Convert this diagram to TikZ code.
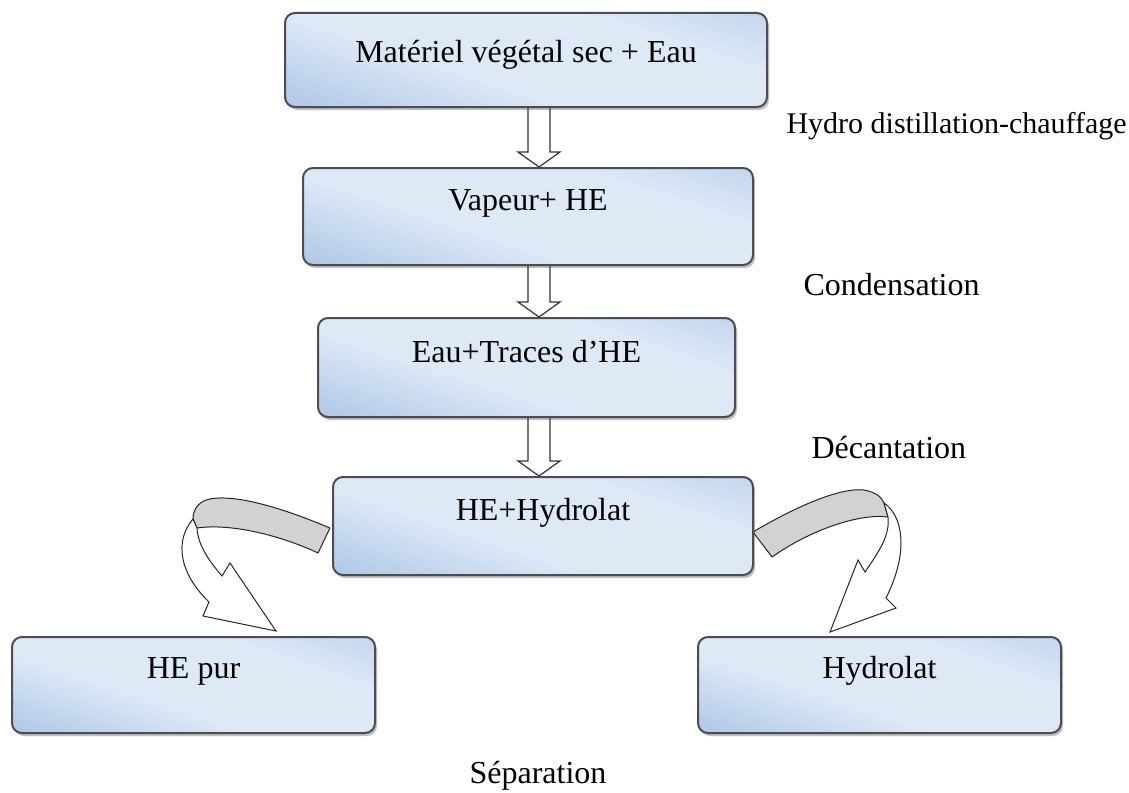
\documentclass[tikz,border=0pt]{standalone}
\usepackage{fontspec}
\setmainfont{Liberation Serif}
\usetikzlibrary{calc,shadows}
\definecolor{bdark}{HTML}{8FAFDC}
\definecolor{blight}{HTML}{DEE9F6}
\definecolor{bmid}{HTML}{A3BFE7}
\definecolor{boxline}{HTML}{4A4E54}
\definecolor{bandgray}{HTML}{D2D2D2}
\pgfdeclareverticalshading{boxshade}{100bp}{color(0bp)=(bdark); color(22bp)=(bdark!50!blight); color(42bp)=(blight); color(66bp)=(blight); color(100bp)=(bmid)}
\pgfdeclarelayer{bottom}
\pgfdeclarelayer{background}
\pgfsetlayers{bottom,background,main}
\newcommand{\hollowdown}[2]{%
  \draw[hollow] ($(ax|-#1.south)+(-11,0)$) -- ($(ax|-#2.north)+(-11,-15)$)
    -- ($(ax|-#2.north)+(-21,-15)$) -- (ax|-#2.north)
    -- ($(ax|-#2.north)+(21,-15)$) -- ($(ax|-#2.north)+(11,-15)$)
    -- ($(ax|-#1.south)+(11,0)$);}
\begin{document}
\begin{tikzpicture}[x=1pt,y=-1pt,
  procbox/.style={draw=boxline, line width=2pt, rounded corners=10pt,
    shade, shading=boxshade, shading angle=-18, inner xsep=0pt, inner ysep=0pt,
    font=\fontsize{32}{38}\selectfont,
    drop shadow={shadow xshift=2pt,shadow yshift=-3pt,opacity=0.35,fill=black!70}},
  hollow/.style={draw=black!80, fill=white, line width=1.2pt, line join=miter},
  band/.style={draw=black!85, fill=bandgray, line width=1pt, line join=round},
  tipshape/.style={draw=black!85, fill=white, line width=1pt, line join=miter},
  steplabel/.style={font=\fontsize{32}{38}\selectfont}
]
\useasboundingbox (0,0) rectangle (1129,792);
\begin{pgfonlayer}{bottom}
\fill[white] (0,0) rectangle (1129,792);
\end{pgfonlayer}

\coordinate (ax) at (539,0);

\node[procbox, minimum width=482pt, text height=50pt, text depth=44pt] (b1) at (526,60) {Matériel végétal sec + Eau};
\node[procbox, minimum width=450pt, text height=42pt, text depth=55pt] (b2) at (528,216.5) {Vapeur+ HE};
\node[procbox, minimum width=417pt, text height=44pt, text depth=55pt] (b3) at (526.5,367.5) {Eau+Traces d’HE};
\node[procbox, minimum width=420pt, text height=43pt, text depth=55pt] (b4) at (543,526) {HE+Hydrolat};
\node[procbox, minimum width=363pt, text height=41pt, text depth=55pt] (b5) at (193.5,685) {HE pur};
\node[procbox, minimum width=363pt, text height=41pt, text depth=55pt] (b6) at (879.5,685) {Hydrolat};

\begin{pgfonlayer}{background}
\hollowdown{b1}{b2}
\hollowdown{b2}{b3}
\hollowdown{b3}{b4}
% left curved arrow
\draw[band] (330,528) .. controls (285,509) and (232,492) .. (206,500)
  .. controls (198,503) and (193,510) .. (193,519)
  -- (197,528) .. controls (232,523) and (282,536) .. (318,553) -- cycle;
\draw[tipshape] (193,519) .. controls (175,540) and (178,572) .. (209,602)
  -- (203,616) -- (276,631) -- (230,563) -- (222,576)
  .. controls (210,562) and (198,546) .. (197,528) -- cycle;
% right curved arrow
\draw[band] (753,532) .. controls (790,510) and (838,487) .. (864,490)
  .. controls (875,492) and (882,497) .. (884,503)
  -- (888,517) .. controls (860,513) and (810,530) .. (772,557) -- cycle;
\draw[tipshape] (884,503) .. controls (902,515) and (910,550) .. (886,598)
  -- (896,608) -- (830,632) -- (858,560) -- (865,572)
  .. controls (880,550) and (890,535) .. (888,517) -- cycle;
\end{pgfonlayer}

\node[steplabel, font=\fontsize{30}{36}\selectfont, anchor=base west] (l1) at (783,133) {Hydro distillation-chauffage};
\node[steplabel, anchor=base west] (l2) at (800,295) {Condensation};
\node[steplabel, anchor=base west] (l3) at (808,458) {Décantation};
\node[steplabel, anchor=base] (l4) at (538,783) {Séparation};
\end{tikzpicture}
\end{document}
